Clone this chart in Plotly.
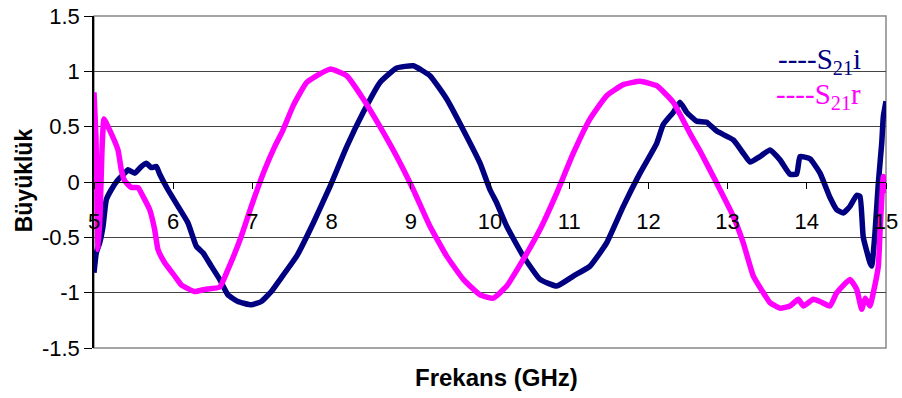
import plotly.graph_objects as go

# ---- data ----
freq_i = [5.000, 5.029, 5.072, 5.114, 5.155, 5.218, 5.303, 5.388, 5.429, 5.514, 5.597, 5.660, 5.723, 5.787,
          5.830, 5.934, 6.061, 6.187, 6.292, 6.376, 6.481, 6.587, 6.692, 6.818, 6.986, 7.112, 7.239, 7.360,
          7.559, 7.769, 7.980, 8.191, 8.400, 8.611, 8.822, 9.032, 9.242, 9.453, 9.663, 9.874, 10.000, 10.085,
          10.211, 10.420, 10.631, 10.842, 11.052, 11.263, 11.473, 11.683, 11.894, 12.105, 12.188, 12.314,
          12.399, 12.483, 12.610, 12.736, 12.862, 13.072, 13.198, 13.283, 13.409, 13.535, 13.662, 13.788,
          13.872, 13.914, 14.040, 14.167, 14.293, 14.378, 14.461, 14.545, 14.630, 14.672, 14.713, 14.798,
          14.820, 14.861, 14.903, 14.946, 14.966, 15.000]
s21i = [-0.82, -0.64, -0.55, -0.40, -0.16, -0.07, 0.02, 0.08, 0.11, 0.08, 0.14, 0.17, 0.13, 0.14,
        0.07, -0.07, -0.22, -0.37, -0.58, -0.64, -0.76, -0.88, -1.02, -1.08, -1.11, -1.08, -0.99, -0.87,
        -0.67, -0.37, -0.04, 0.32, 0.63, 0.90, 1.03, 1.05, 0.96, 0.75, 0.47, 0.17, -0.07, -0.19,
        -0.40, -0.67, -0.88, -0.94, -0.85, -0.76, -0.55, -0.22, 0.08, 0.35, 0.52, 0.63,
        0.72, 0.63, 0.55, 0.54, 0.46, 0.38, 0.26, 0.18, 0.23, 0.29, 0.20, 0.07,
        0.07, 0.23, 0.21, 0.08, -0.14, -0.25, -0.28, -0.22, -0.12, -0.13, -0.50, -0.73,
        -0.76, -0.46, -0.01, 0.35, 0.59, 0.73]

freq_r = [5.000, 5.025, 5.051, 5.076, 5.101, 5.126, 5.177, 5.303, 5.345, 5.388, 5.471, 5.556, 5.619, 5.703,
          5.766, 5.808, 5.893, 6.019, 6.102, 6.271, 6.398, 6.587, 6.692, 6.860, 6.986, 7.155, 7.282, 7.374,
          7.516, 7.686, 7.980, 8.191, 8.400, 8.611, 8.822, 9.032, 9.242, 9.453, 9.663, 9.874, 10.042, 10.211,
          10.420, 10.631, 10.842, 11.052, 11.263, 11.473, 11.683, 11.894, 12.105, 12.314, 12.525, 12.652,
          12.862, 13.072, 13.198, 13.325, 13.451, 13.535, 13.662, 13.788, 13.893, 13.956, 14.082, 14.167,
          14.293, 14.378, 14.545, 14.630, 14.693, 14.737, 14.798, 14.840, 14.903, 14.924, 14.946, 14.966, 15.000]
s21r = [0.81, 0.40, -0.61, -0.30, 0.29, 0.57, 0.50, 0.29, 0.11, 0.01, -0.05, -0.05, -0.13, -0.25,
        -0.43, -0.61, -0.73, -0.85, -0.93, -0.99, -0.97, -0.95, -0.79, -0.49, -0.22, 0.11, 0.32, 0.45,
        0.69, 0.90, 1.02, 0.96, 0.75, 0.50, 0.23, -0.07, -0.40, -0.67, -0.88, -1.02, -1.05, -0.94,
        -0.70, -0.43, -0.10, 0.26, 0.57, 0.78, 0.88, 0.91, 0.87, 0.72, 0.44, 0.28,
        -0.01, -0.31, -0.55, -0.85, -1.00, -1.09, -1.14, -1.12, -1.06, -1.12, -1.06, -1.08,
        -1.12, -1.00, -0.88, -0.97, -1.15, -1.05, -1.12, -1.00, -0.76, -0.46, -0.16, 0.05, -0.10]

xtick_vals = [5, 6, 7, 8, 9, 10, 11, 12, 13, 14, 15]
xtick_labels = ["5", "6", "7", "8", "9", "10", "11", "12", "13", "14", "15"]
ytick_vals = [1.5, 1, 0.5, 0, -0.5, -1, -1.5]
ytick_labels = ["1.5", "1", "0.5", "0", "-0.5", "-1", "-1.5"]

series_names = ["S<sub>21</sub>i", "S<sub>21</sub>r"]
series_colors = ["#000080", "#FF00FF"]

x_title = "Frekans (GHz)"
y_title = "Büyüklük"

fig = go.Figure()
fig.add_trace(go.Scatter(x=freq_i, y=s21i, mode="lines", name=series_names[0],
                         line=dict(color=series_colors[0], width=5.5, shape="spline", smoothing=0.4)))
fig.add_trace(go.Scatter(x=freq_r, y=s21r, mode="lines", name=series_names[1],
                         line=dict(color=series_colors[1], width=5.5, shape="spline", smoothing=0.4)))

fig.update_layout(
    width=902, height=398,
    margin=dict(l=94, r=16, t=16, b=50),
    paper_bgcolor="white", plot_bgcolor="white",
    showlegend=False,
    font=dict(family="Liberation Sans, Arial, sans-serif", color="black"),
    xaxis=dict(range=[5, 15], tickvals=xtick_vals, ticktext=xtick_labels, automargin=False,
               showgrid=False, zeroline=False, showline=True, linecolor="black", linewidth=1,
               anchor="free", position=0.5, ticks="outside", ticklen=6, tickcolor="black",
               tickfont=dict(size=22), ticklabelstandoff=14),
    yaxis=dict(range=[-1.5, 1.5], tickvals=ytick_vals, ticktext=ytick_labels, automargin=False,
               showgrid=True, gridcolor="#444444", gridwidth=1, zeroline=False,
               showline=True, linecolor="black", linewidth=1.5,
               ticks="outside", ticklen=8, tickcolor="black", tickfont=dict(size=22)),
    shapes=[dict(type="rect", xref="paper", yref="paper", x0=0, x1=1, y0=0, y1=1,
                 line=dict(color="#888888", width=1.5), layer="below")],
    annotations=[
        dict(text="<b>" + y_title + "</b>", xref="paper", yref="paper", x=-0.088, y=0.506,
             textangle=-90, showarrow=False, font=dict(size=23), xanchor="center", yanchor="middle"),
        dict(text="<b>" + x_title + "</b>", xref="paper", yref="paper", x=0.5076, y=-0.09,
             showarrow=False, font=dict(size=24), xanchor="center", yanchor="middle"),
        dict(text="----" + series_names[0], xref="paper", yref="paper", x=0.971, y=0.865,
             showarrow=False, font=dict(size=29, color=series_colors[0],
                                        family="Liberation Serif, Times New Roman, serif"),
             xanchor="right", yanchor="middle"),
        dict(text="----" + series_names[1], xref="paper", yref="paper", x=0.971, y=0.76,
             showarrow=False, font=dict(size=29, color=series_colors[1],
                                        family="Liberation Serif, Times New Roman, serif"),
             xanchor="right", yanchor="middle"),
    ],
)

fig.write_html("out.html")
